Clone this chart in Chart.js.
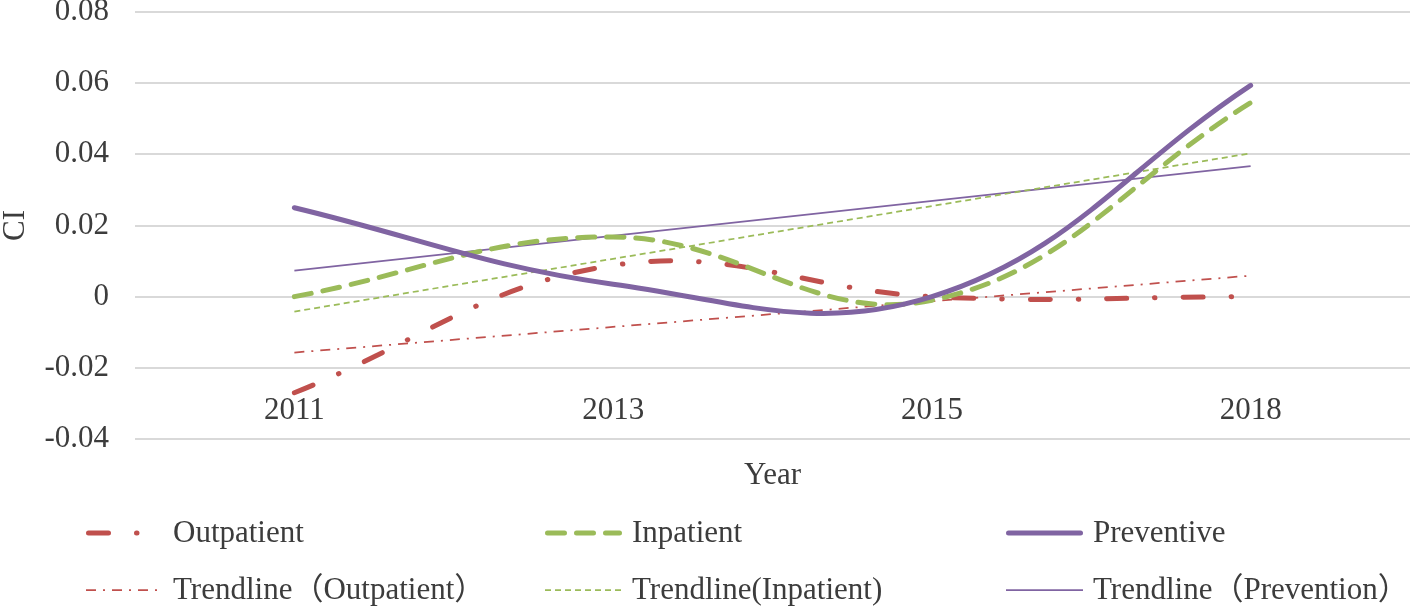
<!DOCTYPE html>
<html>
<head>
<meta charset="utf-8">
<script src="https://cdn.jsdelivr.net/npm/chart.js@4.4.1/dist/chart.umd.min.js"></script>
<style>
  html, body { margin: 0; padding: 0; background: #fff; }
</style>
</head>
<body>
<canvas id="ci" width="1416" height="612"></canvas>
<script>
// values
const years = ['2011', '2013', '2015', '2018'];
const outpatient = [-0.027, 0.0088, 0, 0];
const inpatient = [0, 0.0168, -0.001, 0.0545];
const preventive = [0.025, 0.0035, 0, 0.0594];
// trendlines: only the two end points are kept, the line spans the gap
const trendOutpatient = [-0.0157, null, null, 0.0059];
const trendInpatient = [-0.0042, null, null, 0.0403];
const trendPrevention = [0.0073, null, null, 0.0367];
const yTicks = [-0.04, -0.02, 0, 0.02, 0.04, 0.06, 0.08];

const serif = "'Liberation Serif', 'Times New Roman', 'Noto Sans CJK SC', serif";
const fontSize = 31;
const textColor = '#3c3c3c';
const red = '#C0504D', green = '#9BBB59', purple = '#8064A2';

// 3 x 2 legend under the chart, like the excel one
const gridLegend = {
  id: 'gridLegend',
  afterDraw(chart) {
    const ctx = chart.ctx;
    const colX = [86, 545, 1006];
    const rowY = [533, 590];
    chart.data.datasets.forEach((ds, i) => {
      const x = colX[i % 3], y = rowY[Math.floor(i / 3)];
      const cap = ds.borderCapStyle || 'butt';
      const inset = cap === 'round' ? ds.borderWidth / 2 : 0;
      ctx.save();
      ctx.strokeStyle = ds.borderColor;
      ctx.lineWidth = ds.borderWidth;
      ctx.lineCap = cap;
      ctx.setLineDash(ds.borderDash || []);
      ctx.beginPath();
      ctx.moveTo(x + inset, y);
      ctx.lineTo(x + 77 - inset, y);
      ctx.stroke();
      ctx.setLineDash([]);
      ctx.fillStyle = textColor;
      ctx.font = fontSize + 'px ' + serif;
      ctx.textBaseline = 'middle';
      ctx.fillText(ds.label, x + 87, y + 1);
      ctx.restore();
    });
  }
};

new Chart(document.getElementById('ci'), {
  type: 'line',
  data: {
    labels: years,
    datasets: [
      { label: 'Outpatient', data: outpatient, borderColor: red, borderWidth: 5,
        borderDash: [20, 28, 0.5, 28], borderCapStyle: 'round', tension: 0.4, order: 3 },
      { label: 'Inpatient', data: inpatient, borderColor: green, borderWidth: 5,
        borderDash: [17, 12], borderCapStyle: 'round', tension: 0.4, order: 2 },
      { label: 'Preventive', data: preventive, borderColor: purple, borderWidth: 5,
        borderCapStyle: 'round', tension: 0.4, order: 1 },
      { label: 'Trendline（Outpatient）', data: trendOutpatient, borderColor: red, borderWidth: 1.75,
        borderDash: [10, 7, 2, 7], spanGaps: true, tension: 0, order: 4 },
      { label: 'Trendline(Inpatient)', data: trendInpatient, borderColor: green, borderWidth: 1.75,
        borderDash: [6, 4], spanGaps: true, tension: 0, order: 5 },
      { label: 'Trendline（Prevention）', data: trendPrevention, borderColor: purple, borderWidth: 1.75,
        spanGaps: true, tension: 0, order: 6 }
    ]
  },
  options: {
    responsive: false,
    animation: false,
    elements: { point: { radius: 0, hoverRadius: 0 } },
    layout: { padding: { top: 12, left: 0, right: 6, bottom: 118 } },
    plugins: { legend: { display: false }, tooltip: { enabled: false } },
    scales: {
      x: {
        offset: true,
        grid: { display: false, drawTicks: false },
        border: { display: false },
        // mirrored so the year labels sit inside the plot, above the -0.04 line
        ticks: { mirror: true, color: textColor, font: { family: serif, size: fontSize }, padding: 10, maxRotation: 0 },
        title: { display: true, text: 'Year', color: textColor, font: { family: serif, size: fontSize }, padding: 0 },
        afterFit(s) { s.height = 55; s.paddingLeft = 0; s.paddingRight = 0; }
      },
      y: {
        min: -0.04,
        max: 0.08,
        afterBuildTicks(s) { s.ticks = yTicks.map(v => ({ value: v })); },
        grid: { color: '#d9d9d9', lineWidth: 2, drawTicks: false },
        border: { display: false },
        ticks: {
          color: textColor, font: { family: serif, size: fontSize }, padding: 26,
          callback: v => (Math.abs(v) < 1e-9 ? '0' : v.toFixed(2))
        },
        title: { display: true, text: 'CI', color: textColor, font: { family: serif, size: fontSize, lineHeight: 1 }, padding: 0 },
        afterFit(s) { s.width = 135; s.paddingTop = 0; s.paddingBottom = 0; }
      }
    }
  },
  plugins: [gridLegend]
});
</script>
</body>
</html>
